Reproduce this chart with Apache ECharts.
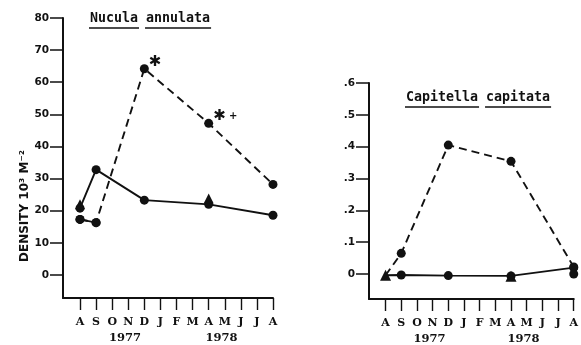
<!DOCTYPE html>
<html>
<head>
<meta charset="utf-8">
<script src="https://cdn.jsdelivr.net/npm/echarts@6/dist/echarts.min.js"></script>
<style>html,body{margin:0;padding:0;background:#fff}#c{width:581px;height:345px}</style>
</head>
<body>
<div id="c"></div>
<script>
// ---- data ----
const monthLabels = ['A','S','O','N','D','J','F','M','A','M','J','J','A'];
const monthTicks = [0,1,2,3,4,5,6,7,8,9,10,11,12];
const yearLabels = ['1977','1978'];
const yearPos = [2.8, 8.8];
const sampleMonths = [0, 1, 4, 8, 12];

const nuculaSolid  = [20.8, 32.8, 23.3, 22.0, 18.6];
const nuculaDashed = [17.3, 16.3, 64.2, 47.2, 28.2];
const nuculaNotes  = ['', '', '✱', '✱ +', ''];
const nuculaTriMonths = [0, 8];
const nuculaTri    = [22.0, 23.8];
const nuculaTicks  = [0,10,20,30,40,50,60,70,80];

const capitellaSolid  = [-0.004, -0.003, -0.005, -0.006, 0.02];
const capitellaDashed = [-0.004, 0.065, 0.405, 0.354, 0.022];
const capitellaTriMonths = [0, 8];
const capitellaTri    = [-0.004, -0.007];
const capitellaExtraMonths = [12];
const capitellaExtra  = [0.0];
const capitellaTicks  = [0,0.1,0.2,0.3,0.4,0.5,0.6];

const titleLeft = ['Nucula', 'annulata'];
const titleRight = ['Capitella', 'capitata'];

// ---- styles ----
const INK = '#111';
const sansBold = {fontFamily:'DejaVu Sans', fontWeight:'bold', color:INK};
const serifBold = {fontFamily:'DejaVu Serif', fontWeight:'bold', color:INK};
const XMIN = -1.057;

function pts(ms, vs){ return ms.map((m,i)=>[m, vs[i]]); }

function xAxes(grid){
  return [
    {type:'value', gridIndex:grid, min:XMIN, max:12, position:'bottom',
     axisLine:{show:true, onZero:false, lineStyle:{color:INK, width:2}},
     axisTick:{show:true, customValues:monthTicks, length:12, lineStyle:{color:INK, width:1.4}},
     axisLabel:{customValues:monthTicks, margin:19, fontSize:11, ...serifBold,
                formatter:(v)=>monthLabels[Math.round(v)]},
     splitLine:{show:false}},
    {type:'value', gridIndex:grid, min:XMIN, max:12, position:'bottom',
     axisLine:{show:false}, axisTick:{show:false},
     axisLabel:{customValues:yearPos, margin:34, fontSize:11.5, ...serifBold,
                formatter:(v)=>yearLabels[yearPos.indexOf(v)]},
     splitLine:{show:false}}
  ];
}

function yAxis(grid, min, max, ticks, fmt){
  return {type:'value', gridIndex:grid, min:min, max:max,
    axisLine:{show:true, onZero:false, lineStyle:{color:INK, width:2}},
    axisTick:{show:true, customValues:ticks, length:13, lineStyle:{color:INK, width:1.5}},
    axisLabel:{customValues:ticks, margin:14, fontSize:10.5, ...sansBold, formatter:fmt},
    splitLine:{show:false}};
}

function lineSeries(xi, yi, ms, vs, dashed, symbolFn, notes){
  return {type:'line', xAxisIndex:xi, yAxisIndex:yi,
    data: ms.map((m,i)=>{
      const item = {value:[m, vs[i]]};
      if (notes && notes[i]) {
        item.label = {show:true, position:'right', distance:0, offset:[0,-7],
          formatter: notes[i].replace('✱','{s|✱}').replace('+','{p|+}'),
          rich:{s:{fontSize:15, color:INK, fontFamily:'DejaVu Sans'}, p:{fontSize:10, fontWeight:'bold', color:INK, fontFamily:'DejaVu Sans'}}};
      }
      return item;
    }),
    symbol: symbolFn || 'circle', symbolSize:9, showSymbol:true,
    lineStyle:{color:INK, width:1.9, type: dashed ? [8,5] : 'solid'},
    itemStyle:{color:INK, opacity:1}, z:3, silent:true};
}

function scatter(xi, yi, ms, vs, sym, size){
  return {type:'scatter', xAxisIndex:xi, yAxisIndex:yi, data:pts(ms, vs),
    symbol:sym, symbolSize:size, itemStyle:{color:INK, opacity:1}, z:4, silent:true};
}

const firstNone = (v, p) => p.dataIndex === 0 ? 'none' : 'circle';

const option = {
  animation:false,
  backgroundColor:'#fff',
  grid:[
    {left:63, top:18, width:210, height:280},
    {left:369, top:83, width:210, height:216}
  ],
  xAxis:[...xAxes(0), ...xAxes(1)],
  yAxis:[
    yAxis(0, -7.16, 80, nuculaTicks, (v)=>String(v)),
    yAxis(1, -0.0785, 0.6, capitellaTicks, (v)=> v === 0 ? '0' : '.' + Math.round(v*10))
  ],
  series:[
    lineSeries(0, 0, sampleMonths, nuculaSolid, false),
    lineSeries(0, 0, sampleMonths, nuculaDashed, true, null, nuculaNotes),
    lineSeries(0, 0, sampleMonths.slice(0,2), nuculaDashed.slice(0,2), false),
    scatter(0, 0, nuculaTriMonths, nuculaTri, 'triangle', 10),
    lineSeries(2, 1, sampleMonths, capitellaSolid, false, firstNone),
    lineSeries(2, 1, sampleMonths, capitellaDashed, true, firstNone),
    scatter(2, 1, capitellaTriMonths, capitellaTri, 'triangle', 11),
    scatter(2, 1, capitellaExtraMonths, capitellaExtra, 'circle', 9)
  ]
};

// titles with per-word underlines
const TFONT = 'bold 13.3px "DejaVu Sans Mono"';
const ctx = document.createElement('canvas').getContext('2d');
ctx.font = TFONT;
function titleGraphics(words, x, y, uy){
  const g = [];
  let cx = x;
  const space = ctx.measureText(' ').width;
  words.forEach((w, i)=>{
    const wd = ctx.measureText(w).width;
    g.push({type:'text', x:cx, y:y, style:{text:w, font:TFONT, fill:INK, textAlign:'left', textVerticalAlign:'middle'}});
    g.push({type:'line', shape:{x1:cx-1, y1:uy, x2:cx+wd+1, y2:uy}, style:{stroke:INK, lineWidth:1.3}});
    cx += wd + space;
  });
  return g;
}

option.graphic = [
  ...titleGraphics(titleLeft, 90, 19, 28),
  ...titleGraphics(titleRight, 406, 98, 107),
  {type:'text', x:25, y:206, rotation:Math.PI/2,
   style:{text:'DENSITY 10³ M⁻²', font:'bold 12px "DejaVu Sans"', fill:INK, textAlign:'center', textVerticalAlign:'middle'}}
];

const chart = echarts.init(document.getElementById('c'), null, {renderer:'canvas'});
chart.setOption(option);
</script>
</body>
</html>
